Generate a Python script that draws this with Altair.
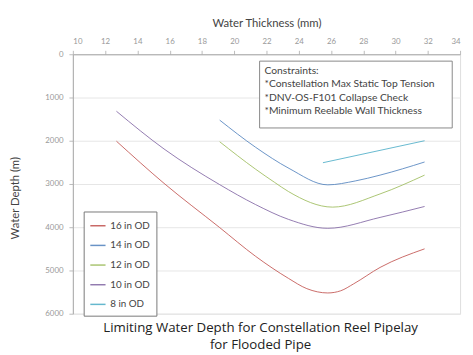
import altair as alt
import pandas as pd

series_names = ["16 in OD", "14 in OD", "12 in OD", "10 in OD", "8 in OD"]
colors = ["#C0504D", "#4F81BD", "#9BBB59", "#8064A2", "#4BACC6"]

t16 = [12.7, 15.65, 19.1, 21.33, 23.36, 24.5, 25.8, 26.6, 27.4, 29.04, 31.8]
d16 = [2010, 2985, 4008, 4674, 5182, 5420, 5520, 5470, 5310, 4930, 4500]

t14 = [19.1, 21.33, 23.4, 25.8, 27.5, 29.04, 31.8]
d14 = [1523, 2152, 2640, 3020, 2930, 2795, 2492]

t12 = [19.1, 21.33, 22.5, 23.36, 26.1, 29.04, 31.8]
d12 = [2023, 2659, 2962, 3174, 3535, 3230, 2795]

t10 = [12.7, 15.65, 19.1, 21.33, 23.36, 25.8, 29.04, 31.8]
d10 = [1318, 2190, 3015, 3477, 3818, 4025, 3773, 3520]

t8 = [25.5, 31.8]
d8 = [2508, 2000]

x_ticks = list(range(10, 36, 2))
y_ticks = list(range(0, 7000, 1000))

constraint_lines = [
    "Constraints:",
    "*Constellation Max Static Top Tension",
    "*DNV-OS-F101 Collapse Check",
    "*Minimum Reelable Wall Thickness",
]

rows = []
for name, ts, ds in zip(series_names, [t16, t14, t12, t10, t8], [d16, d14, d12, d10, d8]):
    for t, d in zip(ts, ds):
        rows.append({"series": name, "thickness": t, "depth": d})
df = pd.DataFrame(rows)

FONT = "Lato"

lines = alt.Chart(df).mark_line(strokeWidth=1, opacity=0.85, interpolate="monotone").encode(
    x=alt.X("thickness:Q",
            scale=alt.Scale(domain=[10, 34], nice=False),
            axis=alt.Axis(orient="top", values=x_ticks, title="Water Thickness (mm)",
                          grid=False, labelFontSize=8, labelColor="#999",
                          tickSize=4, labelPadding=5, titlePadding=9,
                          titleFontSize=11.5, titleFontWeight="normal", titleColor="#444",
                          domainColor="#aaa", tickColor="#bbb")),
    y=alt.Y("depth:Q",
            scale=alt.Scale(domain=[0, 6000], reverse=True, nice=False),
            axis=alt.Axis(values=y_ticks, format="d", title="Water Depth (m)", grid=True,
                          gridColor="#e6e6e6", labelFontSize=8, labelColor="#999",
                          tickSize=4, labelPadding=6, titleFontSize=11.5,
                          titleFontWeight="normal", titleColor="#444",
                          titleX=-53, titleY=146, titleBaseline="bottom",
                          domainColor="#aaa", tickColor="#bbb")),
    color=alt.Color("series:N",
                    scale=alt.Scale(domain=series_names, range=colors),
                    sort=series_names,
                    legend=alt.Legend(title=None, orient="none", legendX=11, legendY=160,
                                      strokeColor="#777", fillColor="white", padding=6,
                                      labelFontSize=10, labelColor="#444",
                                      symbolType="stroke", symbolStrokeWidth=1.5,
                                      symbolSize=240, rowPadding=6, labelFont=FONT)),
)

box = alt.Chart(pd.DataFrame({"a": [0]})).mark_rect(
    fill="white", stroke="#888", strokeWidth=1
).encode(x=alt.value(190), x2=alt.value(386), y=alt.value(7), y2=alt.value(75))

text_df = pd.DataFrame({"line": constraint_lines, "i": list(range(len(constraint_lines)))})
texts = alt.Chart(text_df).mark_text(
    align="left", baseline="middle", fontSize=10.5, color="#444", font=FONT
).encode(
    x=alt.value(195),
    y=alt.Y("i:Q", scale=alt.Scale(domain=[0, 3], range=[17, 58]), axis=None),
    text="line:N",
)

chart = alt.layer(lines, box, texts).resolve_scale(y="independent").properties(
    width=394, height=264,
    title=alt.TitleParams(
        ["Limiting Water Depth for Constellation Reel Pipelay", "for Flooded Pipe"],
        orient="bottom", anchor="middle", fontSize=13.5, fontWeight="normal",
        color="#222", font="Open Sans", offset=4, lineHeight=17, dx=-6),
    autosize=alt.AutoSizeParams(type="none"),
    padding={"left": 66, "top": 44, "right": 5, "bottom": 42},
).configure_view(stroke="#aaa").configure(font=FONT)

chart.save("out.html", embed_options={"renderer": "svg", "actions": False})
